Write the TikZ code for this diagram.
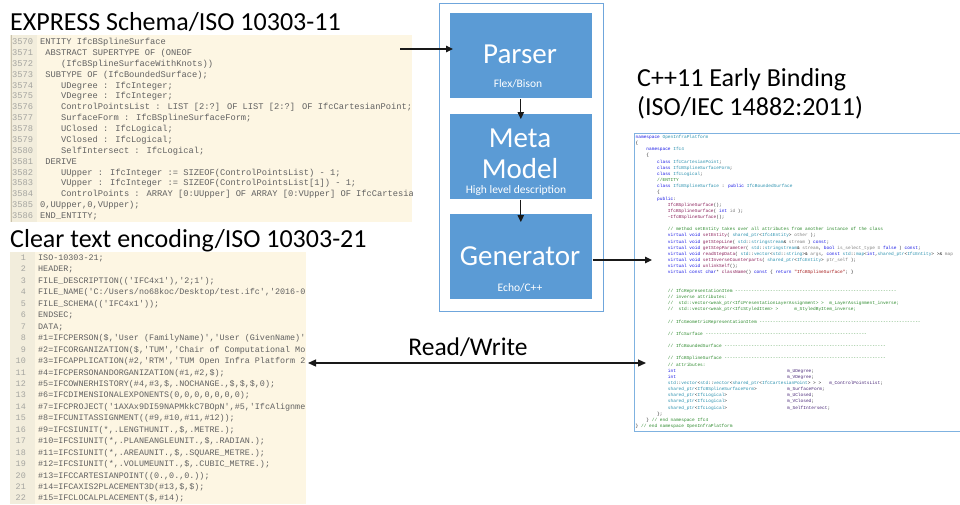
\documentclass[tikz,border=0pt]{standalone}
\usepackage{fontspec}
\setmainfont{Carlito}
\newfontfamily\codefont{Liberation Mono}[Ligatures=TeXOff]
\usetikzlibrary{arrows.meta,calc}
\definecolor{boxblue}{HTML}{5B9BD5}
\definecolor{framecol}{HTML}{6FA6DC}
\definecolor{cppframe}{HTML}{7FB2E0}
\definecolor{codebg}{HTML}{FDF6E3}
\definecolor{gutterbg}{HTML}{F2EDDC}
\definecolor{gutterline}{HTML}{C9C2AE}
\definecolor{codetxt}{HTML}{616161}
\definecolor{numtxt}{HTML}{A5A5A0}
\definecolor{ckw}{HTML}{1A1AE6}
\definecolor{ctype}{HTML}{2B91AF}
\definecolor{cfun}{HTML}{8A1F5A}
\definecolor{cpar}{HTML}{808080}
\definecolor{ccom}{HTML}{2E8B2E}
\definecolor{cstr}{HTML}{A31515}
\definecolor{cmem}{HTML}{4B2A7A}
\newcommand\kw[1]{\textcolor{ckw}{#1}}
\newcommand\ty[1]{\textcolor{ctype}{#1}}
\newcommand\fn[1]{\textcolor{cfun}{#1}}
\newcommand\pa[1]{\textcolor{cpar}{#1}}
\newcommand\cm[1]{\textcolor{ccom}{#1}}
\newcommand\st[1]{\textcolor{cstr}{#1}}
\newcommand\mb[1]{\textcolor{cmem}{#1}}
\newcommand\sk[1]{\hspace{#1\dimexpr0.6em\relax}}
\newcommand\dsh{------------------------------------------------------------}
% EXPRESS line: number, indent (chars), text
\newcommand\exl[3]{%
  \node[exnum] (en#1) at (12,{44.6+(#1-3570)*10.87}) {#1};
  \node[excode] (ec#1) at ({40+#2*5.24},{44.6+(#1-3570)*10.87}) {#3};}
% clear text line: number, text
\newcommand\ctl[2]{%
  \node[ctnum] (cn#1) at (26,{260.5+(#1-1)*11.45}) {#1};
  \node[ctcode] (cc#1) at (38,{260.5+(#1-1)*11.45}) {#2};}
% C++ line: line index, indent (chars), text
\newcommand\cpl[3]{%
  \node[cppcode] (pp#1) at ({635.5+#2*2.69},{138.5+(#1-1)*6.15}) {#3};}
% C++ member: line index, name
\newcommand\cpm[2]{%
  \node[cppcode] (pm#1) at (787,{138.5+(#1-1)*6.15}) {#2};}
\begin{document}
\begin{tikzpicture}[x=1pt,y=-1pt,
  heading/.style={anchor=base west,inner sep=0,text=black,font=\fontsize{26}{31}\selectfont},
  codeblock/.style={anchor=north west,inner sep=0,fill=codebg,draw=none},
  excode/.style={anchor=base west,inner sep=0,text=codetxt,font=\codefont\fontsize{8.73}{10}\selectfont},
  exnum/.style={anchor=base west,inner sep=0,text=numtxt,font=\codefont\fontsize{8.73}{10}\selectfont},
  ctcode/.style={anchor=base west,inner sep=0,text=codetxt,font=\codefont\fontsize{8.4}{10}\selectfont},
  ctnum/.style={anchor=base east,inner sep=0,text=numtxt,font=\codefont\fontsize{8.4}{10}\selectfont},
  cppcode/.style={anchor=base west,inner sep=0,text=black!85,font=\codefont\fontsize{4.48}{5}\selectfont},
  stage/.style={anchor=north west,inner sep=0,fill=boxblue,draw=white,line width=0.6pt,minimum width=143pt,minimum height=86pt},
  stagetitle/.style={anchor=base,inner sep=0,text=white,font=\fontsize{29}{30}\selectfont},
  stagesub/.style={anchor=base,inner sep=0,text=white,font=\fontsize{11.5}{12}\selectfont},
  flow/.style={line width=1.2pt,draw=black!90,-{Triangle[length=7pt,width=6.5pt]}},
  rw/.style={line width=1.2pt,draw=black!90,{Triangle[length=8pt,width=7pt]}-{Triangle[length=8pt,width=7pt]}}]
\useasboundingbox[fill=white] (0,0) rectangle (960,504);

% ---------- headings ----------
\node[heading] (hexp) at (10,30) {EXPRESS Schema/ISO 10303-11};
\node[heading] (hclear) at (10,247) {Clear text encoding/ISO 10303-21};
\node[heading] (hcpp1) at (637,86) {C++11 Early Binding};
\node[heading] (hcpp2) at (637,115) {(ISO/IEC 14882:2011)};

% ---------- EXPRESS block ----------
\node[codeblock,minimum width=402pt,minimum height=187pt] (expblk) at (10,35) {};
\fill[gutterbg] (10,35) rectangle (37,222);
\draw[gutterline,line width=1pt] (11,35) -- (11,222);
\begin{scope}
\clip (10,35) rectangle (412,222);
\exl{3570}{0}{ENTITY IfcBSplineSurface}
\exl{3571}{1}{ABSTRACT SUPERTYPE OF (ONEOF}
\exl{3572}{4}{(IfcBSplineSurfaceWithKnots))}
\exl{3573}{1}{SUBTYPE OF (IfcBoundedSurface);}
\exl{3574}{4}{UDegree : IfcInteger;}
\exl{3575}{4}{VDegree : IfcInteger;}
\exl{3576}{4}{ControlPointsList : LIST [2:?] OF LIST [2:?] OF IfcCartesianPoint;}
\exl{3577}{4}{SurfaceForm : IfcBSplineSurfaceForm;}
\exl{3578}{4}{UClosed : IfcLogical;}
\exl{3579}{4}{VClosed : IfcLogical;}
\exl{3580}{4}{SelfIntersect : IfcLogical;}
\exl{3581}{1}{DERIVE}
\exl{3582}{4}{UUpper : IfcInteger := SIZEOF(ControlPointsList) - 1;}
\exl{3583}{4}{VUpper : IfcInteger := SIZEOF(ControlPointsList[1]) - 1;}
\exl{3584}{4}{ControlPoints : ARRAY [0:UUpper] OF ARRAY [0:VUpper] OF IfcCartesia}
\exl{3585}{0}{0,UUpper,0,VUpper);}
\exl{3586}{0}{END\_ENTITY;}
\end{scope}

% ---------- clear text block ----------
\node[codeblock,minimum width=296pt,minimum height=252pt] (ctblk) at (10,252) {};
\fill[gutterbg] (10,252) rectangle (35,504);
\begin{scope}
\clip (10,252) rectangle (306,504);
\ctl{1}{ISO-10303-21;}
\ctl{2}{HEADER;}
\ctl{3}{FILE\_DESCRIPTION(('IFC4x1'),'2;1');}
\ctl{4}{FILE\_NAME('C:/Users/no68koc/Desktop/test.ifc','2016-0}
\ctl{5}{FILE\_SCHEMA(('IFC4x1'));}
\ctl{6}{ENDSEC;}
\ctl{7}{DATA;}
\ctl{8}{\#1=IFCPERSON(\$,'User (FamilyName)','User (GivenName)'}
\ctl{9}{\#2=IFCORGANIZATION(\$,'TUM','Chair of Computational Mo}
\ctl{10}{\#3=IFCAPPLICATION(\#2,'RTM','TUM Open Infra Platform 2}
\ctl{11}{\#4=IFCPERSONANDORGANIZATION(\#1,\#2,\$);}
\ctl{12}{\#5=IFCOWNERHISTORY(\#4,\#3,\$,.NOCHANGE.,\$,\$,\$,0);}
\ctl{13}{\#6=IFCDIMENSIONALEXPONENTS(0,0,0,0,0,0,0);}
\ctl{14}{\#7=IFCPROJECT('1AXAx9DI59NAPMkkC7BOpN',\#5,'IfcAlignme}
\ctl{15}{\#8=IFCUNITASSIGNMENT((\#9,\#10,\#11,\#12));}
\ctl{16}{\#9=IFCSIUNIT(*,.LENGTHUNIT.,\$,.METRE.);}
\ctl{17}{\#10=IFCSIUNIT(*,.PLANEANGLEUNIT.,\$,.RADIAN.);}
\ctl{18}{\#11=IFCSIUNIT(*,.AREAUNIT.,\$,.SQUARE\_METRE.);}
\ctl{19}{\#12=IFCSIUNIT(*,.VOLUMEUNIT.,\$,.CUBIC\_METRE.);}
\ctl{20}{\#13=IFCCARTESIANPOINT((0.,0.,0.));}
\ctl{21}{\#14=IFCAXIS2PLACEMENT3D(\#13,\$,\$);}
\ctl{22}{\#15=IFCLOCALPLACEMENT(\$,\#14);}
\end{scope}

% ---------- C++ block ----------
\begin{scope}
\clip (633,132) rectangle (960,432);
\node[anchor=north west,inner sep=0,fill=white,draw=cppframe,line width=1.3pt,minimum width=340pt,minimum height=298pt] (cppblk) at (634,133) {};
\cpl{1}{0}{\kw{namespace} \ty{OpenInfraPlatform}}
\cpl{2}{0}{\{}
\cpl{3}{4}{\kw{namespace} \ty{Ifc4}}
\cpl{4}{4}{\{}
\cpl{5}{8}{\kw{class} \ty{IfcCartesianPoint};}
\cpl{6}{8}{\kw{class} \ty{IfcBSplineSurfaceForm};}
\cpl{7}{8}{\kw{class} \ty{IfcLogical};}
\cpl{8}{8}{\cm{//ENTITY}}
\cpl{9}{8}{\kw{class} \ty{IfcBSplineSurface} : \kw{public} \ty{IfcBoundedSurface}}
\cpl{10}{8}{\{}
\cpl{11}{8}{\kw{public}:}
\cpl{12}{12}{\fn{IfcBSplineSurface}();}
\cpl{13}{12}{\fn{IfcBSplineSurface}( \kw{int} \pa{id} );}
\cpl{14}{12}{\fn{\textasciitilde IfcBSplineSurface}();}
\cpl{16}{12}{\cm{// method setEntity takes over all attributes from another instance of the class}}
\cpl{17}{12}{\kw{virtual void} \fn{setEntity}( \ty{shared\_ptr}<\ty{Ifc4Entity}> \pa{other} );}
\cpl{18}{12}{\kw{virtual void} \fn{getStepLine}( \ty{std}::\ty{stringstream}\& \pa{stream} ) \kw{const};}
\cpl{19}{12}{\kw{virtual void} \fn{getStepParameter}( \ty{std}::\ty{stringstream}\& \pa{stream}, \kw{bool} \pa{is\_select\_type} = \kw{false} ) \kw{const};}
\cpl{20}{12}{\kw{virtual void} \fn{readStepData}( \ty{std}::\ty{vector}<\ty{std}::\ty{string}>\& \pa{args}, \kw{const} \ty{std}::\ty{map}<\kw{int},\ty{shared\_ptr}<\ty{IfcEntity}> >\& \pa{map}}
\cpl{21}{12}{\kw{virtual void} \fn{setInverseCounterparts}( \ty{shared\_ptr}<\ty{IfcEntity}> \pa{ptr\_self} );}
\cpl{22}{12}{\kw{virtual void} \fn{unlinkSelf}();}
\cpl{23}{12}{\kw{virtual const char}* \fn{className}() \kw{const} \{ \kw{return} \st{"IfcBSplineSurface"}; \}}
\cpl{26}{12}{\cm{// IfcRepresentationItem \dsh}}
\cpl{27}{12}{\cm{// inverse attributes:}}
\cpl{28}{12}{\cm{//\sk{2}std::vector<weak\_ptr<IfcPresentationLayerAssignment> >\sk{2}m\_LayerAssignment\_inverse;}}
\cpl{29}{12}{\cm{//\sk{2}std::vector<weak\_ptr<IfcStyledItem> >\sk{6}m\_StyledByItem\_inverse;}}
\cpl{31}{12}{\cm{// IfcGeometricRepresentationItem \dsh}}
\cpl{33}{12}{\cm{// IfcSurface \dsh}}
\cpl{35}{12}{\cm{// IfcBoundedSurface \dsh}}
\cpl{37}{12}{\cm{// IfcBSplineSurface \dsh}}
\cpl{38}{12}{\cm{// attributes:}}
\cpl{39}{12}{\kw{int}}
\cpm{39}{\mb{m\_UDegree};}
\cpl{40}{12}{\kw{int}}
\cpm{40}{\mb{m\_VDegree};}
\cpl{41}{12}{\ty{std}::\ty{vector}<\ty{std}::\ty{vector}<\ty{shared\_ptr}<\ty{IfcCartesianPoint}> > >\sk{3}\mb{m\_ControlPointsList};}
\cpl{42}{12}{\ty{shared\_ptr}<\ty{IfcBSplineSurfaceForm}>}
\cpm{42}{\mb{m\_SurfaceForm};}
\cpl{43}{12}{\ty{shared\_ptr}<\ty{IfcLogical}>}
\cpm{43}{\mb{m\_UClosed};}
\cpl{44}{12}{\ty{shared\_ptr}<\ty{IfcLogical}>}
\cpm{44}{\mb{m\_VClosed};}
\cpl{45}{12}{\ty{shared\_ptr}<\ty{IfcLogical}>}
\cpm{45}{\mb{m\_SelfIntersect};}
\cpl{46}{8}{\};}
\cpl{47}{4}{\} \cm{// end namespace Ifc4}}
\cpl{48}{0}{\} \cm{// end namespace OpenInfraPlatform}}
\end{scope}

% ---------- pipeline ----------
\node[anchor=north west,inner sep=0,fill=white,draw=framecol,line width=1.2pt,minimum width=164pt,minimum height=308pt] (frame) at (439,3) {};
\node[stage] (parser) at (449,12) {};
\node[stage] (meta) at (449,113) {};
\node[stage] (gen) at (449,213) {};

\node[stagetitle] (tparser) at (520,63) {Parser};
\node[stagesub] (sparser) at (518,87) {Flex/Bison};
\node[stagetitle] (tmeta1) at (520,147) {Meta};
\node[stagetitle] (tmeta2) at (520,178.5) {Model};
\node[stagesub] (smeta) at (516,193.5) {High level description};
\node[stagetitle] (tgen) at (520,265) {Generator};
\node[stagesub] (sgen) at (520,291) {Echo/C++};

% ---------- connectors ----------
\coordinate (exout) at (400,49);
\coordinate (cppin) at (652,260);
\coordinate (rwl) at (308,363);
\coordinate (rwr) at (646,363);
\draw[flow,shorten >=-4pt] (exout) -- (exout -| parser.west);
\draw[flow,shorten >=-6pt] (parser.south) -- (meta.north);
\draw[flow,shorten >=-9pt] (meta.south) -- (gen.north);
\draw[flow] (cppin -| gen.east) -- (cppin);
\draw[rw] (rwl) -- (rwr);
\node[anchor=base,inner sep=0,font=\fontsize{25.5}{30}\selectfont] (rwlabel) at (468,355) {Read/Write};
\end{tikzpicture}
\end{document}
